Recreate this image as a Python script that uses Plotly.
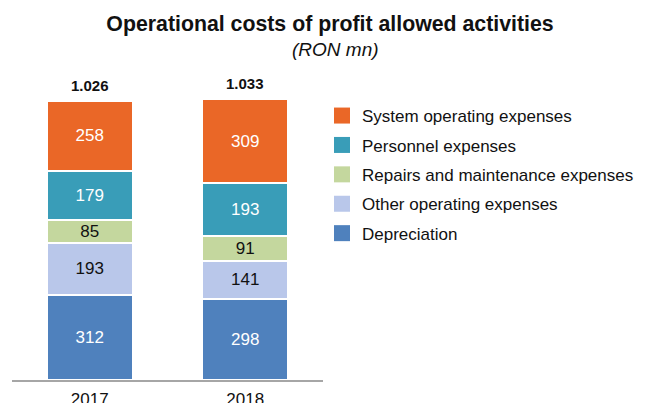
import plotly.graph_objects as go

years = ["2017", "2018"]
depreciation = [312, 298]
other_operating = [193, 141]
repairs = [85, 91]
personnel = [179, 193]
system_operating = [258, 309]
totals = [1026, 1033]
total_labels = ["1.026", "1.033"]

# stacking order (bottom -> top)
series = [
    ("Depreciation", depreciation, "#4F81BD", "white"),
    ("Other operating expenses", other_operating, "#B9C7EA", "#111111"),
    ("Repairs and maintenance expenses", repairs, "#C4D79E", "#111111"),
    ("Personnel expenses", personnel, "#399DB8", "white"),
    ("System operating expenses", system_operating, "#EA6727", "white"),
]

FONT = "Liberation Sans, Arial"

fig = go.Figure()
for name, vals, color, tcolor in series:
    fig.add_trace(go.Bar(
        x=years, y=vals, name=name, showlegend=False,
        marker=dict(color=color, line=dict(color="white", width=2)),
        text=[str(v) for v in vals], textposition="inside", insidetextanchor="middle",
        textangle=0, constraintext="none",
        textfont=dict(color=tcolor, size=17, family=FONT),
        width=0.55, hoverinfo="x+y+name",
    ))

# legend entries (top -> bottom), larger square swatches
for name, vals, color, tcolor in reversed(series):
    fig.add_trace(go.Scatter(
        x=[None], y=[None], mode="markers", name=name, legendgroup=name,
        marker=dict(symbol="square", size=16, color=color),
    ))

# totals above each stack (x = category index on the category axis)
for i, (t, lab) in enumerate(zip(totals, total_labels)):
    fig.add_annotation(
        x=i, y=t, xref="x", yref="y", text="<b>" + lab + "</b>",
        showarrow=False, yanchor="bottom", yshift=5,
        font=dict(size=15, color="#111111", family=FONT),
    )

fig.add_annotation(
    text="<i>(RON mn)</i>", xref="paper", yref="paper",
    x=(335 - 12) / 311, y=(380 - 50) / 300,
    xanchor="center", yanchor="middle", showarrow=False,
    font=dict(size=19, color="#111111", family=FONT),
)

fig.update_layout(
    barmode="stack",
    width=653, height=403,
    margin=dict(l=12, r=330, t=80, b=23),
    paper_bgcolor="white", plot_bgcolor="white",
    font=dict(family=FONT, color="#111111"),
    title=dict(
        text="<b>Operational costs of profit allowed activities</b>",
        x=330 / 653, xanchor="center", xref="container",
        y=1 - 24 / 403, yanchor="middle", yref="container",
        font=dict(size=21.3, color="#111111", family=FONT),
    ),
    legend=dict(
        x=(322 - 12) / 311, xanchor="left", y=(380 - 98) / 300, yanchor="top",
        traceorder="grouped", font=dict(size=17, color="#111111", family=FONT),
        tracegroupgap=4.3, itemwidth=30, itemsizing="trace",
    ),
    xaxis=dict(type="category", range=[-0.5, 1.5], showline=True, linecolor="#A6A6A6",
               linewidth=1.5, ticks="", automargin=False, ticklabelstandoff=3,
               tickfont=dict(size=17, color="#111111", family=FONT), fixedrange=True),
    yaxis=dict(range=[0, 1103], visible=False, showgrid=False, automargin=False),
    uniformtext=dict(minsize=10, mode="show"),
)

fig.write_html("out.html", config={"displayModeBar": False},
               post_script="document.body.style.margin='0';")
